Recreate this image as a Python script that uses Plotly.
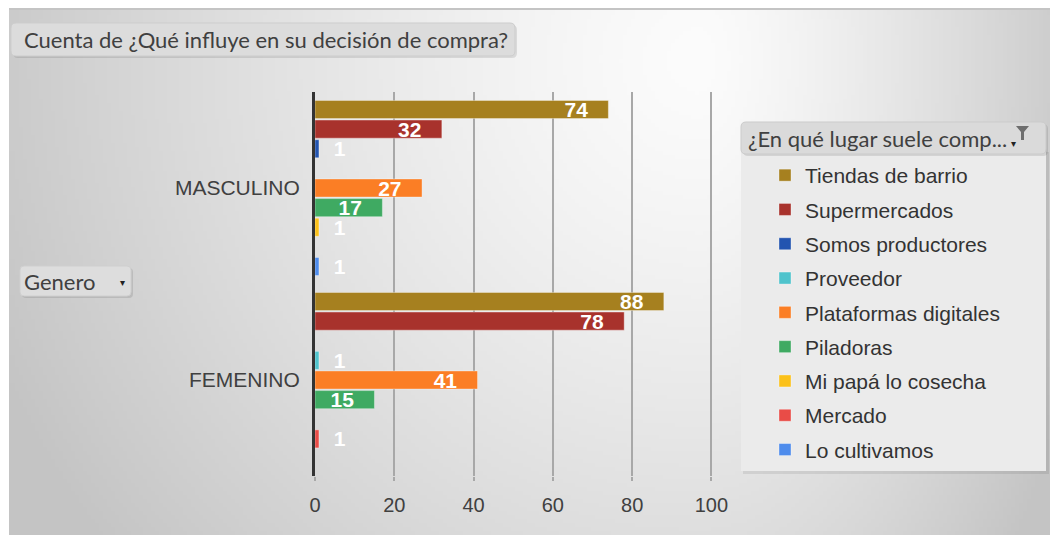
import base64
import struct
import zlib

import numpy as np
import plotly.graph_objects as go

# ---------------- data ----------------
generos = ["MASCULINO", "FEMENINO"]
lugares = [
    "Tiendas de barrio",
    "Supermercados",
    "Somos productores",
    "Proveedor",
    "Plataformas digitales",
    "Piladoras",
    "Mi papá lo cosecha",
    "Mercado",
    "Lo cultivamos",
]
masculino = [74, 32, 1, None, 27, 17, 1, None, 1]
femenino = [88, 78, None, 1, 41, 15, None, 1, None]
colores = ["#A6801F", "#A8322C", "#2254B0", "#4FC3CC", "#FB7E25",
           "#3FAA62", "#FBC11A", "#E94C47", "#4E8CEC"]
x_ticks = [0, 20, 40, 60, 80, 100]

titulo = "Cuenta de ¿Qué influye en su decisión de compra?"
titulo_leyenda = "¿En qué lugar suele comp..."
campo_filas = "Genero"

# ---------------- geometry helpers ----------------
# the page body has an 8px margin, so the figure is 8px smaller and all
# reference pixel positions are shifted by OFF
OFF = 8
W, H = 1050, 527
L, R, T, B = 307, 345, 84, 59
PW = W - L - R
PH = H - T - B


def fx(px):
    return (px - OFF - L) / PW


def fy(py):
    return (H - B - (py - OFF)) / PH


def rrect(x0, y0, x1, y1, r):
    p = [
        f"M{fx(x0 + r)},{fy(y0)}", f"L{fx(x1 - r)},{fy(y0)}",
        f"Q{fx(x1)},{fy(y0)} {fx(x1)},{fy(y0 + r)}", f"L{fx(x1)},{fy(y1 - r)}",
        f"Q{fx(x1)},{fy(y1)} {fx(x1 - r)},{fy(y1)}", f"L{fx(x0 + r)},{fy(y1)}",
        f"Q{fx(x0)},{fy(y1)} {fx(x0)},{fy(y1 - r)}", f"L{fx(x0)},{fy(y0 + r)}",
        f"Q{fx(x0)},{fy(y0)} {fx(x0 + r)},{fy(y0)}", "Z",
    ]
    return " ".join(p)


def poly(points):
    return "M" + " L".join(f"{fx(a)},{fy(b)}" for a, b in points) + " Z"


# ---------------- background gradient (PNG data URI) ----------------
def make_png(arr):
    h, w = arr.shape
    raw = b"".join(b"\x00" + arr[j].astype(np.uint8).tobytes() for j in range(h))

    def chunk(tag, data):
        c = struct.pack(">I", len(data)) + tag + data
        return c + struct.pack(">I", zlib.crc32(tag + data) & 0xFFFFFFFF)

    png = b"\x89PNG\r\n\x1a\n"
    png += chunk(b"IHDR", struct.pack(">IIBBBBB", w, h, 8, 0, 0, 0, 0))
    png += chunk(b"IDAT", zlib.compress(raw, 9))
    png += chunk(b"IEND", b"")
    return "data:image/png;base64," + base64.b64encode(png).decode()


S = 4
GX0, GY0 = 9, 9          # reference px of gradient origin
RW, RH = 1058, 535
gw, gh = (RW - GX0) // S + 1, (RH - GY0) // S + 1
xs = GX0 + np.arange(gw) * S + S / 2
ys = GY0 + np.arange(gh) * S + S / 2
XX, YY = np.meshgrid(xs, ys)
cx, cy = 700, 60
dx = np.where(XX < cx, (XX - cx) / 640, (XX - cx) / 340)
dy = (YY - cy) / 650
d = np.minimum(np.sqrt(dx ** 2 + dy ** 2), 1.2)
grad = 252 - 44 * d ** 1.3
img_src = make_png(np.clip(grad, 0, 255))

# ---------------- figure ----------------
fig = go.Figure()

NB = "\u00a0"
for i, name in enumerate(lugares):
    vals = [masculino[i], femenino[i]]
    texts, pos = [], []
    for v in vals:
        if v is None:
            texts.append("")
            pos.append("none")
        elif v > 5:
            texts.append(f"{v}" + NB * 3)
            pos.append("inside")
        else:
            texts.append(NB * 2 + f"{v}")
            pos.append("outside")
    fig.add_trace(go.Bar(
        name=name,
        y=generos,
        x=vals,
        orientation="h",
        marker=dict(color=colores[i], line=dict(color="rgba(255,255,255,0.35)", width=1)),
        text=texts,
        textposition=pos,
        insidetextanchor="end",
        constraintext="none",
        textfont=dict(family="Liberation Sans, Arial", size=21, color="white", weight="bold"),
        outsidetextfont=dict(family="Liberation Sans, Arial", size=21, color="white", weight="bold"),
        cliponaxis=False,
        legendgroup=name,
    ))

shapes = [
    # top line of sheet
    dict(type="line", xref="paper", yref="paper", x0=fx(9), x1=fx(RW), y0=fy(9), y1=fy(9),
         line=dict(color="#c4c4c4", width=2), layer="below"),
    # title box
    dict(type="path", xref="paper", yref="paper", path=rrect(13, 25, 517, 58, 5),
         fillcolor="rgba(0,0,0,0.10)", line=dict(width=0), layer="below"),
    dict(type="path", xref="paper", yref="paper", path=rrect(11, 23, 515, 56, 5),
         fillcolor="#dcdcdc", line=dict(color="#cdcdcd", width=1), layer="below"),
    # genero box
    dict(type="path", xref="paper", yref="paper", path=rrect(22, 268, 133, 298, 4),
         fillcolor="rgba(0,0,0,0.10)", line=dict(width=0), layer="below"),
    dict(type="path", xref="paper", yref="paper", path=rrect(20, 266, 131, 296, 4),
         fillcolor="#dddddd", line=dict(color="#cfcfcf", width=1), layer="below"),
    # legend panel
    dict(type="rect", xref="paper", yref="paper", x0=fx(743), x1=fx(1049), y0=fy(474), y1=fy(152),
         fillcolor="rgba(0,0,0,0.08)", line=dict(width=0), layer="below"),
    dict(type="rect", xref="paper", yref="paper", x0=fx(741), x1=fx(1046), y0=fy(471), y1=fy(152),
         fillcolor="#ebebeb", line=dict(width=0), layer="below"),
    # legend title box
    dict(type="path", xref="paper", yref="paper", path=rrect(743, 124, 1048, 156, 5),
         fillcolor="rgba(0,0,0,0.10)", line=dict(width=0), layer="below"),
    dict(type="path", xref="paper", yref="paper", path=rrect(741, 122, 1046, 154, 5),
         fillcolor="#dadada", line=dict(color="#cbcbcb", width=1), layer="below"),
    # funnel icon
    dict(type="path", xref="paper", yref="paper",
         path=poly([(1016, 126), (1029, 126), (1024, 132), (1024, 140), (1021, 140), (1021, 132)]),
         fillcolor="#6e6e6e", line=dict(width=0)),
]

annotations = [
    dict(text=titulo, xref="paper", yref="paper", x=fx(22), y=fy(39), xanchor="left", yanchor="middle",
         showarrow=False, font=dict(family="Lato", size=22, color="#404040")),
    dict(text=titulo_leyenda, xref="paper", yref="paper", x=fx(746), y=fy(138), xanchor="left",
         yanchor="middle", showarrow=False, font=dict(family="Lato", size=22, color="#404040")),
    dict(text="▾", xref="paper", yref="paper", x=fx(1013), y=fy(143), xanchor="center",
         yanchor="middle", showarrow=False, font=dict(family="DejaVu Sans", size=10, color="#222")),
    dict(text=campo_filas, xref="paper", yref="paper", x=fx(22), y=fy(281), xanchor="left",
         yanchor="middle", showarrow=False, font=dict(family="Lato", size=22, color="#404040")),
    dict(text="▾", xref="paper", yref="paper", x=fx(122), y=fy(282), xanchor="center",
         yanchor="middle", showarrow=False, font=dict(family="DejaVu Sans", size=10, color="#222")),
]

fig.update_layout(
    width=W,
    height=H,
    margin=dict(l=L, r=R, t=T, b=B, pad=0),
    paper_bgcolor="white",
    plot_bgcolor="rgba(0,0,0,0)",
    barmode="group",
    bargap=0.08,
    bargroupgap=0.08,
    showlegend=True,
    legend=dict(
        x=fx(765), xanchor="left",
        y=fy(155), yanchor="top",
        bgcolor="rgba(0,0,0,0)",
        font=dict(family="Liberation Sans, Arial", size=21, color="#333333"),
        tracegroupgap=4,
        traceorder="grouped",
    ),
    images=[dict(source=img_src, xref="paper", yref="paper", x=fx(GX0), y=fy(GY0),
                 sizex=(gw * S) / PW, sizey=(gh * S) / PH, xanchor="left", yanchor="top",
                 sizing="stretch", layer="below")],
    shapes=shapes,
    annotations=annotations,
    xaxis=dict(
        range=[0, 100.4],
        tickvals=x_ticks,
        showgrid=True,
        gridcolor="#a8a8a8",
        gridwidth=1.5,
        zeroline=False,
        showline=False,
        ticks="outside",
        ticklen=4,
        tickcolor="#a8a8a8",
        tickwidth=1.5,
        ticklabelstandoff=7,
        tickfont=dict(family="Liberation Sans, Arial", size=20, color="#404040"),
        fixedrange=True,
    ),
    yaxis=dict(
        type="category",
        categoryorder="array",
        categoryarray=generos,
        autorange="reversed",
        showgrid=False,
        zeroline=False,
        showline=True,
        linecolor="#333333",
        linewidth=3,
        ticks="",
        ticklabelstandoff=8,
        tickfont=dict(family="Liberation Sans, Arial", size=21, color="#404040"),
        fixedrange=True,
    ),
)

fig.write_html("out.html")
